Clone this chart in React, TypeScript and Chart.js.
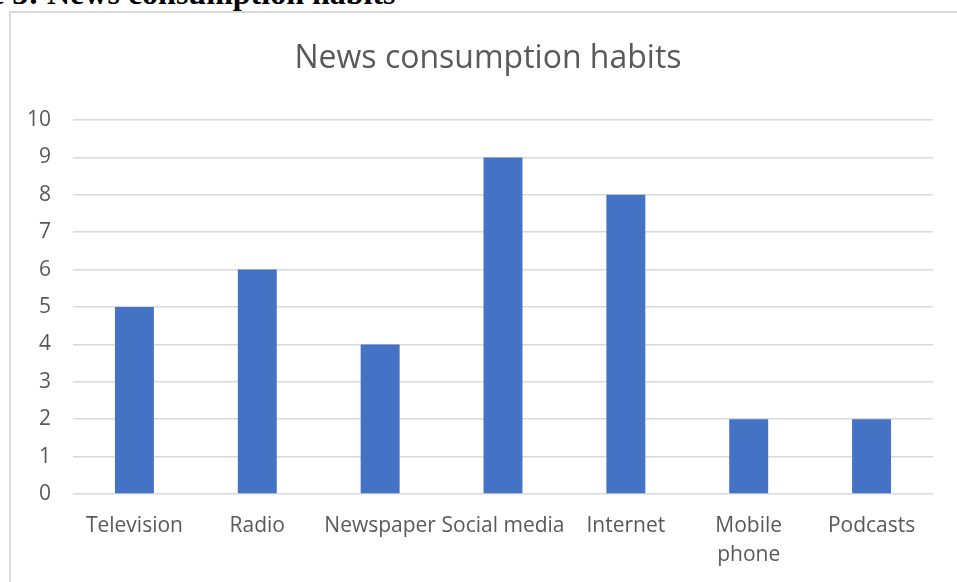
import React, { useEffect, useRef } from "react";
import { Chart, registerables } from "chart.js";

Chart.register(...registerables);

const categories: (string | string[])[] = [
  "Television",
  "Radio",
  "Newspaper",
  "Social media",
  "Internet",
  ["Mobile", "phone"],
  "Podcasts",
];
const values: number[] = [5, 6, 4, 9, 8, 2, 2];
const yTicks: number[] = [0, 1, 2, 3, 4, 5, 6, 7, 8, 9, 10];
const chartTitle = "News consumption habits";
const captionPrefix = "Figure 3: ";
const captionText = "News consumption habits";

const FONT = "'Open Sans', 'Noto Sans', sans-serif";
const TEXT = "#595959";
const GRID = "#d9d9d9";
const BAR = "#4472C4";

const titlePlugin = {
  id: "excelTitle",
  afterDraw(chart: any) {
    const ctx = chart.ctx;
    ctx.save();
    ctx.font = `32px ${FONT}`;
    ctx.fillStyle = TEXT;
    ctx.textAlign = "center";
    ctx.textBaseline = "alphabetic";
    ctx.fillText(chartTitle, 488, 68);
    ctx.restore();
  },
};

export default function App() {
  const ref = useRef<HTMLCanvasElement | null>(null);

  useEffect(() => {
    if (!ref.current) return;
    const chart = new Chart(ref.current, {
      type: "bar",
      data: {
        labels: categories,
        datasets: [
          {
            label: "Series 1",
            data: values,
            backgroundColor: BAR,
            borderWidth: 0,
            barPercentage: 0.317,
            categoryPercentage: 1,
          },
        ],
      },
      options: {
        animation: false,
        responsive: false,
        devicePixelRatio: 1,
        layout: { padding: { left: 0, right: 24, top: 120, bottom: 0 } },
        plugins: {
          legend: { display: false },
          tooltip: { enabled: false },
          title: { display: false },
        },
        scales: {
          x: {
            grid: { display: false, drawTicks: false },
            border: { display: false },
            ticks: {
              color: TEXT,
              font: { family: FONT, size: 21, lineHeight: 1.4 },
              padding: 17.3,
              autoSkip: false,
              maxRotation: 0,
              minRotation: 0,
            },
            afterFit: (scale: any) => {
              scale.height = 88;
            },
          },
          y: {
            min: 0,
            max: 10,
            afterBuildTicks: (scale: any) => {
              scale.ticks = yTicks.map((v) => ({ value: v }));
            },
            grid: { color: GRID, lineWidth: 1.5, drawTicks: false },
            border: { display: false },
            ticks: {
              color: TEXT,
              font: { family: FONT, size: 21 },
              padding: 22,
            },
            afterFit: (scale: any) => {
              scale.width = 73;
            },
          },
        },
      },
      plugins: [titlePlugin],
    });
    return () => chart.destroy();
  }, []);

  return (
    <div
      style={{
        position: "fixed",
        left: 0,
        top: 0,
        width: 957,
        height: 582,
        overflow: "hidden",
        background: "#ffffff",
      }}
    >
      <div
        style={{
          position: "absolute",
          right: 957 - 47,
          top: -23,
          font: "bold 32px 'Liberation Serif', 'Times New Roman', serif",
          lineHeight: "32px",
          whiteSpace: "pre",
          color: "#000",
        }}
      >
        {captionPrefix}
      </div>
      <div
        style={{
          position: "absolute",
          left: 47,
          top: -23,
          font: "bold 32px 'Liberation Serif', 'Times New Roman', serif",
          lineHeight: "32px",
          whiteSpace: "pre",
          color: "#000",
        }}
      >
        {captionText}
      </div>
      <div
        style={{
          position: "absolute",
          left: 9,
          top: 11,
          width: 1200,
          height: 1200,
          border: "2px solid #d9d9d9",
        }}
      />
      <canvas
        ref={ref}
        width={957}
        height={582}
        style={{ position: "absolute", left: 0, top: 0, width: 957, height: 582 }}
      />
    </div>
  );
}
